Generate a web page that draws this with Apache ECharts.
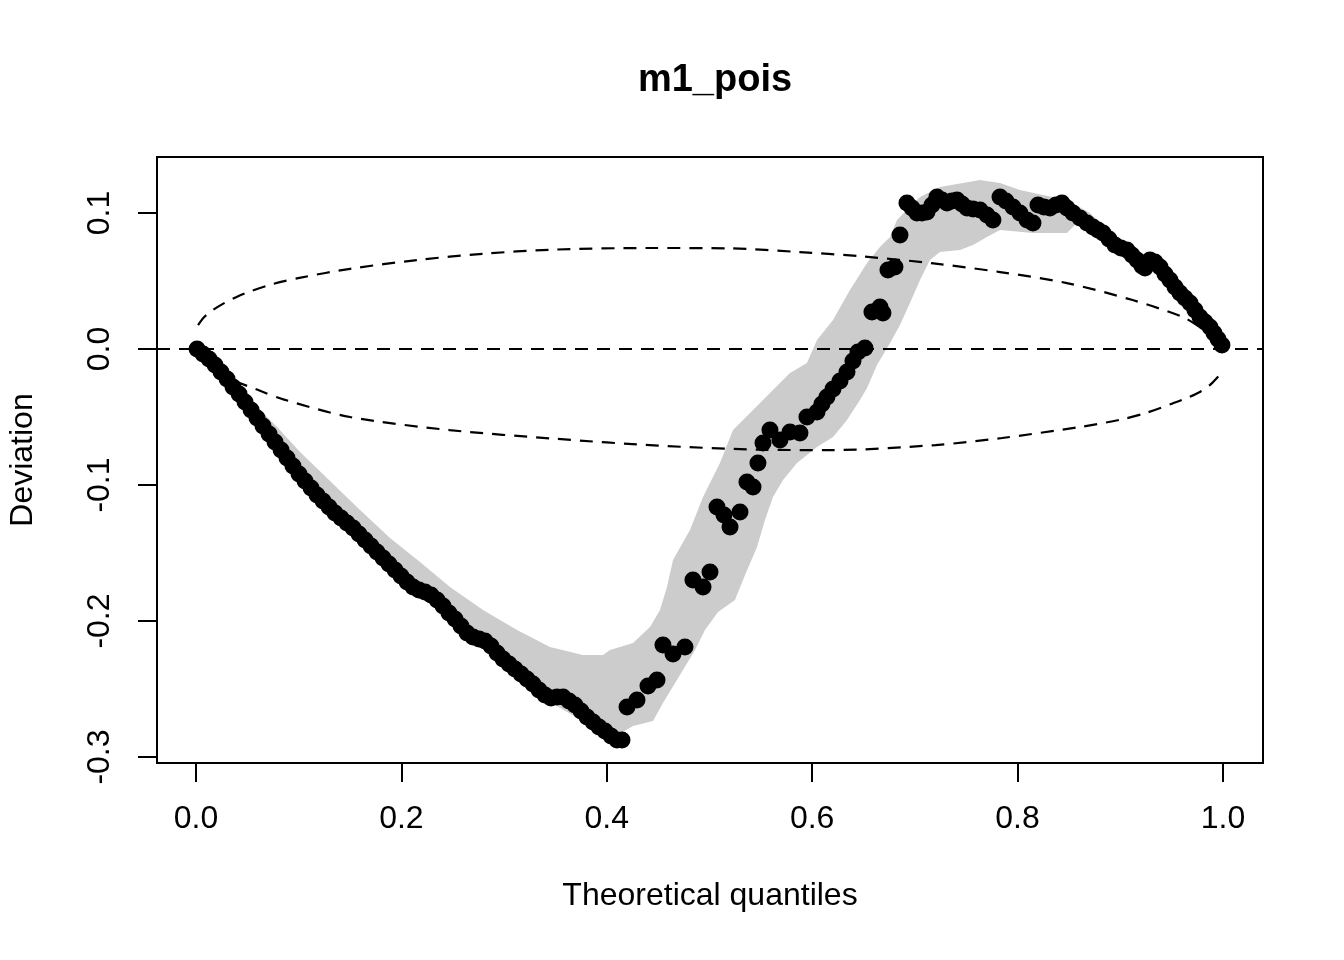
<!DOCTYPE html>
<html>
<head>
<meta charset="utf-8">
<title>m1_pois</title>
<script src="https://cdn.jsdelivr.net/npm/echarts@6/dist/echarts.min.js"></script>
<style>
  html, body { margin: 0; padding: 0; background: #fff; }
  #main { width: 1344px; height: 960px; }
</style>
</head>
<body>
<div id="main"></div>
<script>
// worm plot points: theoretical quantile / deviation
const pointX = [
  0.001, 0.0068, 0.0127, 0.0185, 0.0243, 0.0302, 0.0360, 0.0419, 0.0477, 0.0536,
  0.0594, 0.0652, 0.0711, 0.0769, 0.0828, 0.0886, 0.0944, 0.1003, 0.1061, 0.1120,
  0.1178, 0.1237, 0.1295, 0.1353, 0.1412, 0.1470, 0.1529, 0.1587, 0.1646, 0.1704,
  0.1762, 0.1821, 0.1879, 0.1938, 0.1996, 0.2055, 0.2113, 0.2171, 0.2230, 0.2288,
  0.2347, 0.2405, 0.2463, 0.2522, 0.2580, 0.2639, 0.2697, 0.2756, 0.2814, 0.2872,
  0.2931, 0.2989, 0.3048, 0.3106, 0.3165, 0.3223, 0.3281, 0.3340, 0.3398, 0.3457,
  0.3515, 0.3574, 0.3632, 0.3690, 0.3749, 0.3807, 0.3866, 0.3924, 0.3982, 0.4041,
  0.4099, 0.4148,
  0.4197, 0.4294, 0.4401, 0.4489, 0.4547, 0.4645, 0.4761, 0.4839, 0.4937, 0.5005,
  0.5073, 0.5141, 0.5200, 0.5297, 0.5365, 0.5424, 0.5472, 0.5521, 0.5589, 0.5686,
  0.5784, 0.5881, 0.5949, 0.6047, 0.6095, 0.6144, 0.6203, 0.6271, 0.6339, 0.6397,
  0.6446, 0.6514, 0.6582, 0.6660, 0.6689, 0.6738, 0.6806, 0.6855, 0.6923,
  0.6972, 0.7020, 0.7069, 0.7118, 0.7167, 0.7215, 0.7264, 0.7313, 0.7361, 0.7410,
  0.7459, 0.7507, 0.7566, 0.7634, 0.7702, 0.7760, 0.7829, 0.7887, 0.7955, 0.8023,
  0.8092, 0.8150, 0.8199, 0.8257, 0.8315, 0.8374, 0.8432, 0.8481, 0.8539, 0.8608,
  0.8676, 0.8734, 0.8783, 0.8832, 0.8890, 0.8948, 0.9007, 0.9065, 0.9114, 0.9163,
  0.9211, 0.9241, 0.9289, 0.9338, 0.9387, 0.9435, 0.9484, 0.9533, 0.9581, 0.9630,
  0.9679, 0.9727, 0.9776, 0.9825, 0.9873, 0.9912, 0.9951, 0.9990
]
const pointY = [
  0.0000, -0.0037, -0.0074, -0.0118, -0.0169, -0.0221, -0.0279, -0.0331, -0.0390, -0.0449,
  -0.0507, -0.0566, -0.0625, -0.0684, -0.0743, -0.0801, -0.0860, -0.0919, -0.0971, -0.1022,
  -0.1074, -0.1118, -0.1162, -0.1206, -0.1243, -0.1279, -0.1316, -0.1360, -0.1404, -0.1449,
  -0.1493, -0.1537, -0.1581, -0.1625, -0.1669, -0.1713, -0.1750, -0.1772, -0.1787, -0.1809,
  -0.1846, -0.1890, -0.1941, -0.1985, -0.2037, -0.2088, -0.2118, -0.2132, -0.2147, -0.2184,
  -0.2235, -0.2279, -0.2316, -0.2353, -0.2390, -0.2426, -0.2463, -0.2507, -0.2544, -0.2566,
  -0.2559, -0.2559, -0.2588, -0.2618, -0.2662, -0.2706, -0.2743, -0.2779, -0.2809, -0.2846,
  -0.2875, -0.2875,
  -0.2632, -0.2581, -0.2478, -0.2434, -0.2176, -0.2243, -0.2191, -0.1699, -0.1750, -0.1640,
  -0.1162, -0.1221, -0.1309, -0.1199, -0.0978, -0.1015, -0.0838, -0.0691, -0.0596, -0.0669,
  -0.0610, -0.0618, -0.0500, -0.0463, -0.0404, -0.0353, -0.0294, -0.0235, -0.0169, -0.0088,
  -0.0022, 0.0007, 0.0272, 0.0309, 0.0265, 0.0581, 0.0603, 0.0838, 0.1074,
  0.1037, 0.1000, 0.1000, 0.1007, 0.1059, 0.1118, 0.1096, 0.1074, 0.1088, 0.1096,
  0.1066, 0.1037, 0.1029, 0.1022, 0.0985, 0.0949, 0.1118, 0.1088, 0.1044, 0.1000,
  0.0949, 0.0926, 0.1059, 0.1044, 0.1037, 0.1059, 0.1074, 0.1037, 0.1000, 0.0963,
  0.0926, 0.0897, 0.0875, 0.0853, 0.0809, 0.0765, 0.0743, 0.0728, 0.0691, 0.0654,
  0.0610, 0.0596, 0.0654, 0.0640, 0.0603, 0.0551, 0.0507, 0.0456, 0.0412, 0.0375,
  0.0338, 0.0287, 0.0235, 0.0199, 0.0162, 0.0118, 0.0074, 0.0029
]

// grey simulation band, upper and lower edge
const bandHiX = [
  0.001, 0.0331, 0.0623, 0.0789, 0.1013, 0.1305, 0.1597, 0.1889, 0.2181, 0.2473,
  0.2795, 0.3126, 0.3447, 0.3768, 0.3963, 0.4031, 0.4255, 0.4421, 0.4518, 0.4586,
  0.4645, 0.4810, 0.4937, 0.5102, 0.5229, 0.5424, 0.5618, 0.5784, 0.5949, 0.6047,
  0.6203, 0.6368, 0.6534, 0.6660, 0.6758, 0.6826, 0.6923, 0.7050, 0.7244, 0.7468,
  0.7634, 0.7829, 0.8023, 0.8247, 0.8481, 0.8705, 0.8900, 0.9094, 0.9289, 0.9484,
  0.9679, 0.9873, 0.9990
]
const bandHiY = [
  0.0000, -0.0199, -0.0449, -0.0574, -0.0757, -0.0971, -0.1184, -0.1390, -0.1566, -0.1750,
  -0.1919, -0.2066, -0.2191, -0.2250, -0.2250, -0.2213, -0.2162, -0.2044, -0.1919, -0.1750,
  -0.1551, -0.1331, -0.1088, -0.0838, -0.0596, -0.0449, -0.0301, -0.0176, -0.0103, 0.0066,
  0.0213, 0.0434, 0.0632, 0.0750, 0.0824, 0.0949, 0.1022, 0.1118, 0.1191, 0.1221,
  0.1243, 0.1221, 0.1169, 0.1132, 0.1096, 0.1000, 0.0853, 0.0757, 0.0669, 0.0522,
  0.0346, 0.0169, 0.0044
]
const bandLoX = [
  0.001, 0.0526, 0.1013, 0.1500, 0.1986, 0.2473, 0.2960, 0.3447, 0.3934, 0.4109,
  0.4255, 0.4450, 0.4547, 0.4635, 0.4742, 0.4859, 0.4956, 0.5083, 0.5248, 0.5346,
  0.5463, 0.5540, 0.5618, 0.5716, 0.5852, 0.6047, 0.6203, 0.6339, 0.6465, 0.6534,
  0.6631, 0.6758, 0.6855, 0.6952, 0.7050, 0.7147, 0.7244, 0.7439, 0.7566, 0.7702,
  0.7829, 0.8150, 0.8481, 0.8578, 0.8734, 0.8900, 0.9192, 0.9387, 0.9679, 0.9990
]
const bandLoY = [
  -0.0015, -0.0478, -0.0956, -0.1309, -0.1684, -0.1978, -0.2309, -0.2596, -0.2809, -0.2838,
  -0.2772, -0.2735, -0.2603, -0.2493, -0.2360, -0.2213, -0.2066, -0.1934, -0.1846, -0.1662,
  -0.1456, -0.1257, -0.1088, -0.0963, -0.0838, -0.0721, -0.0647, -0.0522, -0.0375, -0.0287,
  -0.0118, 0.0044, 0.0176, 0.0338, 0.0507, 0.0654, 0.0713, 0.0728, 0.0765, 0.0824,
  0.0875, 0.0853, 0.0853, 0.0926, 0.0890, 0.0765, 0.0581, 0.0566, 0.0301, 0.0007
]

// dashed reference curves
const curveHiX = [0.002, 0.008, 0.0165, 0.028, 0.040, 0.053, 0.075, 0.102, 0.150, 0.215, 0.279, 0.345, 0.442,
  0.52, 0.588, 0.65, 0.718, 0.783, 0.848, 0.912, 0.961, 0.978, 0.990, 0.998]
const curveHiY = [0.0176, 0.0235, 0.0287, 0.0340, 0.0385, 0.0425, 0.0478, 0.0525, 0.0590, 0.0654, 0.0700, 0.0730, 0.0743,
  0.0740, 0.0713, 0.068, 0.063, 0.0566, 0.0485, 0.036, 0.0235, 0.016, 0.011, 0.006]
const curveLoX = [0.002, 0.010, 0.022, 0.036, 0.06, 0.085, 0.15, 0.247, 0.35, 0.45, 0.55,
  0.62, 0.72, 0.785, 0.86, 0.9, 0.925, 0.951, 0.965, 0.978, 0.988, 0.998]
const curveLoY = [-0.006, -0.011, -0.016, -0.0228, -0.030, -0.037, -0.050, -0.0596, -0.066, -0.0710, -0.0740,
  -0.0743, -0.0706, -0.0654, -0.0574, -0.052, -0.047, -0.040, -0.036, -0.0314, -0.026, -0.018]

const xTicks = [0, 0.2, 0.4, 0.6, 0.8, 1.0]
const yTicks = [-0.3, -0.2, -0.1, 0.0, 0.1]

const zip = (xs, ys) => xs.map((x, i) => [x, ys[i]])

const font = 'Liberation Sans, Arial, Helvetica, sans-serif'
const dash = [13, 9]

const chart = echarts.init(document.getElementById('main'), null, { renderer: 'canvas' })

const axisCommon = {
  type: 'value',
  axisLine: { show: false, onZero: false },
  splitLine: { show: false },
  axisTick: { show: true, inside: false, length: 19, lineStyle: { color: '#000', width: 2 } },
  nameLocation: 'middle',
  nameTextStyle: { color: '#000', fontSize: 32, fontFamily: font }
}

const option = {
  animation: false,
  backgroundColor: '#fff',
  title: {
    text: 'm1_pois',
    left: 710,
    top: 57,
    textAlign: 'center',
    textStyle: { color: '#000', fontSize: 38, fontWeight: 'bold', fontFamily: font }
  },
  grid: {
    left: 157, right: 81, top: 157, bottom: 197,
    show: true, borderColor: '#000', borderWidth: 2,
    outerBoundsMode: 'none'
  },
  xAxis: {
    ...axisCommon,
    min: -0.038, max: 1.039,
    name: 'Theoretical quantiles',
    nameGap: 117,
    axisTick: { ...axisCommon.axisTick, customValues: xTicks },
    axisLabel: {
      customValues: xTicks, margin: 40,
      color: '#000', fontSize: 32, fontFamily: font,
      formatter: v => v.toFixed(1)
    }
  },
  yAxis: {
    ...axisCommon,
    min: -0.3044, max: 0.1412,
    name: 'Deviation',
    nameGap: 118,
    axisTick: { ...axisCommon.axisTick, customValues: yTicks },
    axisLabel: {
      customValues: yTicks, margin: 41, rotate: 90,
      color: '#000', fontSize: 32, fontFamily: font,
      formatter: v => v.toFixed(1)
    }
  },
  series: [
    {
      // grey band as one polygon
      type: 'custom',
      silent: true,
      z: 1,
      data: [[0, 0]],
      renderItem (params, api) {
        const pts = zip(bandHiX, bandHiY).concat(zip(bandLoX, bandLoY).reverse())
        return {
          type: 'polygon',
          shape: { points: pts.map(p => api.coord(p)) },
          style: { fill: '#cccccc', stroke: null }
        }
      }
    },
    {
      type: 'line',
      z: 2,
      silent: true,
      showSymbol: false,
      smooth: 0.3,
      data: zip(curveHiX, curveHiY),
      lineStyle: { color: '#000', width: 2.2, type: dash },
      markLine: {
        silent: true,
        symbol: 'none',
        label: { show: false },
        lineStyle: { color: '#000', width: 2.2, type: dash },
        data: [{ yAxis: 0 }]
      }
    },
    {
      type: 'line',
      z: 2,
      silent: true,
      showSymbol: false,
      smooth: 0.3,
      data: zip(curveLoX, curveLoY),
      lineStyle: { color: '#000', width: 2.2, type: dash }
    },
    {
      type: 'scatter',
      z: 3,
      silent: true,
      symbol: 'circle',
      symbolSize: 17,
      itemStyle: { color: '#000', opacity: 1 },
      data: zip(pointX, pointY)
    }
  ]
}

chart.setOption(option)
</script>
</body>
</html>
